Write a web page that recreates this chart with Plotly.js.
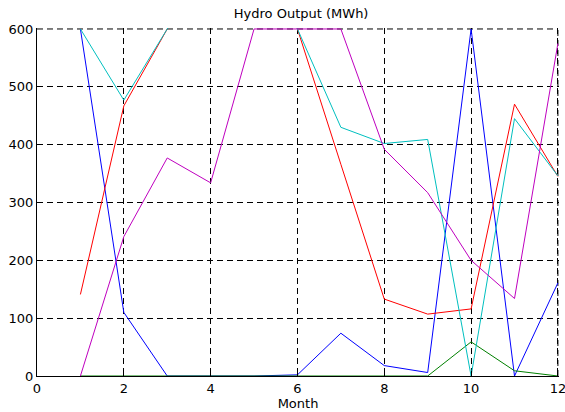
<!DOCTYPE html>
<html>
<head>
<meta charset="utf-8">
<script src="https://cdn.plot.ly/plotly-3.0.1.min.js"></script>
<style>html,body{margin:0;padding:0;background:#fff;}#chart{width:565px;height:412px;}</style>
</head>
<body>
<div id="chart"></div>
<script>
var months = [1,2,3,4,5,6,7,8,9,10,11,12];
var seriesBlue    = [600,110,0,0,0,2,74,18,6,600,0,161];
var seriesGreen   = [0,0,0,0,0,0,0,0,0,59,9,0];
var seriesRed     = [141,467,600,750,750,600,366,133,107,116,470,345];
var seriesCyan    = [600,477,600,760,760,600,430,402,409,0,445,346];
var seriesMagenta = [0,241,377,334,600,600,600,392,317,200,134,575];
var xTicks = [0,2,4,6,8,10,12];
var yTicks = [0,100,200,300,400,500,600];

var names = ['Blue','Green','Red','Cyan','Magenta'];
var data = [seriesBlue, seriesGreen, seriesRed, seriesCyan, seriesMagenta];
var colors = ['#0000ff','#008000','#ff0000','#00bfbf','#bf00bf'];
var traces = data.map(function(d,i){
  return {x: months, y: d, type:'scatter', mode:'lines', name: names[i],
          line:{color: colors[i], width:1}, hoverinfo:'skip'};
});

var font = {family:'DejaVu Sans, sans-serif', size:13, color:'#000'};
var gridDash = '6px,4px';
var axisCommon = {
  showgrid:true, gridcolor:'#000', gridwidth:1, griddash:gridDash,
  showline:true, linecolor:'#000', linewidth:1,
  ticks:'inside', ticklen:5, tickcolor:'#000', tickwidth:1,
  zeroline:false, tickfont:font, fixedrange:true, ticklabeloverflow:'allow'
};
var xMax = xTicks[xTicks.length-1], yMax = yTicks[yTicks.length-1];
var layout = {
  width:565, height:412,
  margin:{l:37, r:6, t:28, b:36},
  paper_bgcolor:'#fff', plot_bgcolor:'#fff',
  showlegend:false,
  font: font,
  title:{text:'Hydro Output (MWh)', font:font, x:0.533, xanchor:'center', y:0.968, yanchor:'middle'},
  xaxis: Object.assign({}, axisCommon, {range:[0,12.025], tickvals:xTicks, ticktext:xTicks.map(String),
          title:{text:'Month', font:font, standoff:1}}),
  yaxis: Object.assign({}, axisCommon, {range:[0,601.7], tickvals:yTicks, ticktext:yTicks.map(String)}),
  shapes:[
    {type:'line', xref:'x', yref:'y', x0:0, x1:xMax, y0:yMax, y1:yMax, layer:'below',
     line:{color:'#000', width:1, dash:gridDash}},
    {type:'line', xref:'x', yref:'y', x0:xMax, x1:xMax, y0:0, y1:yMax, layer:'below',
     line:{color:'#000', width:1, dash:gridDash}}
  ]
};
Plotly.newPlot('chart', traces, layout, {displayModeBar:false, staticPlot:true});
</script>
</body>
</html>
